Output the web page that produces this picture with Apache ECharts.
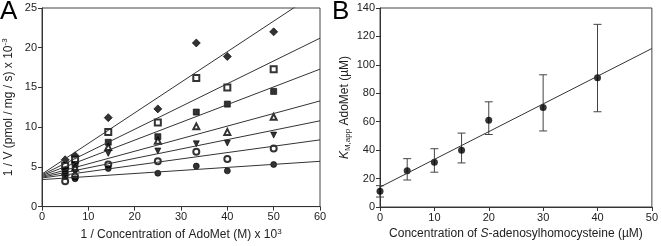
<!DOCTYPE html>
<html>
<head>
<meta charset="utf-8">
<script src="https://cdn.jsdelivr.net/npm/echarts@6/dist/echarts.min.js"></script>
<style>
  html, body { margin: 0; padding: 0; background: #fff; }
  #chart { width: 661px; height: 246px; }
</style>
</head>
<body>
<div id="chart"></div>
<script>
// panel A: 1/V vs 1/[AdoMet], one series per AdoHcy concentration
const invAdoMet = [5, 7.14, 14.3, 25, 33.3, 40, 50]
const diamondFilled = [5.9, 6.4, 11.2, 12.3, 20.6, 18.9, 22.0]
const squareOpen = [5.1, 5.9, 9.4, 10.6, 16.2, 15.0, 17.3]
const squareFilled = [4.6, 5.3, 8.1, 8.8, 11.9, 12.9, 14.5]
const triangleOpen = [4.4, 4.9, 7.5, 8.3, 10.1, 9.4, 11.3]
const triangleDownFilled = [4.1, 4.3, 6.7, 7.0, 7.9, 8.0, 9.0]
const circleOpen = [3.2, 3.8, 5.3, 5.7, 6.9, 6.0, 7.3]
const circleFilled = [3.8, 3.5, 4.8, 4.2, 5.1, 4.5, 5.3]
// fitted lines, value at x = 0 and x = 60
const fitX = [0, 60]
const fitStart = [4.1, 4.0, 3.9, 3.8, 3.7, 3.6, 3.4]
const fitEnd = [27.2, 21.2, 17.3, 13.3, 10.8, 8.4, 5.7]

// panel B: apparent Km vs AdoHcy
const adoHcy = [0, 5, 10, 15, 20, 30, 40]
const kmApp = [11, 25.5, 31.5, 40, 61, 70, 91]
const kmLow = [7, 19, 24.5, 31, 51, 53.5, 67]
const kmHigh = [15, 34, 41, 52, 74, 93, 128.5]
const kmFitX = [0, 50]
const kmFitY = [14, 111.5]

const seriesA = [
  { data: diamondFilled, symbol: 'diamond', size: 8 },
  { data: squareOpen, symbol: 'emptyRect', size: 6 },
  { data: squareFilled, symbol: 'rect', size: 6 },
  { data: triangleOpen, symbol: 'emptyTriangle', size: 6 },
  { data: triangleDownFilled, symbol: 'triangle', size: 6, rotate: 180 },
  { data: circleOpen, symbol: 'emptyCircle', size: 6 },
  { data: circleFilled, symbol: 'circle', size: 6 },
]

const chart = echarts.init(document.getElementById('chart'))

const font = 'Liberation Sans, Arial, sans-serif'
const axisCommon = {
  axisLine: { show: true, onZero: false, lineStyle: { color: '#333', width: 1 } },
  axisTick: { show: true, inside: false, length: 4, lineStyle: { color: '#333' } },
  axisLabel: { color: '#222', fontSize: 11, fontFamily: font, margin: 5 },
  splitLine: { show: false },
  nameLocation: 'middle',
}
const nameStyle = {
  color: '#222',
  fontSize: 12,
  fontFamily: font,
  rich: {
    sup: { fontSize: 8, fontFamily: font, color: '#222', padding: [0, 0, 7, 0] },
    sub: { fontSize: 8, fontFamily: font, color: '#222', padding: [6, 0, 0, 0] },
    it: { fontSize: 12, fontFamily: font, color: '#222', fontStyle: 'italic' },
  },
}

const series = []
seriesA.forEach((s, i) => {
  series.push({
    type: 'line',
    xAxisIndex: 0,
    yAxisIndex: 0,
    data: fitX.map((x, k) => [x, k === 0 ? fitStart[i] : fitEnd[i]]),
    showSymbol: false,
    clip: true,
    lineStyle: { color: '#333', width: 1 },
    silent: true,
  })
  series.push({
    type: 'scatter',
    xAxisIndex: 0,
    yAxisIndex: 0,
    data: invAdoMet.map((x, k) => [x, s.data[k]]),
    symbol: s.symbol,
    symbolSize: s.size,
    symbolRotate: s.rotate || 0,
    itemStyle: { color: '#000', borderColor: '#000', borderWidth: 0.8 },
  })
})

series.push({
  type: 'line',
  xAxisIndex: 1,
  yAxisIndex: 1,
  data: kmFitX.map((x, k) => [x, kmFitY[k]]),
  showSymbol: false,
  lineStyle: { color: '#333', width: 1 },
  silent: true,
})
series.push({
  type: 'custom',
  xAxisIndex: 1,
  yAxisIndex: 1,
  data: adoHcy.map((x, k) => [x, kmLow[k], kmHigh[k]]),
  renderItem: (params, api) => {
    const lo = api.coord([api.value(0), api.value(1)])
    const hi = api.coord([api.value(0), api.value(2)])
    const w = 4
    const style = { stroke: '#444', lineWidth: 1 }
    return {
      type: 'group',
      children: [
        { type: 'line', shape: { x1: lo[0], y1: lo[1], x2: hi[0], y2: hi[1] }, style },
        { type: 'line', shape: { x1: lo[0] - w, y1: lo[1], x2: lo[0] + w, y2: lo[1] }, style },
        { type: 'line', shape: { x1: hi[0] - w, y1: hi[1], x2: hi[0] + w, y2: hi[1] }, style },
      ],
    }
  },
})
series.push({
  type: 'scatter',
  xAxisIndex: 1,
  yAxisIndex: 1,
  data: adoHcy.map((x, k) => [x, kmApp[k]]),
  symbol: 'circle',
  symbolSize: 7,
  itemStyle: { color: '#000' },
})

chart.setOption({
  animation: false,
  textStyle: { fontFamily: font },
  grid: [
    { left: 42, right: 341, top: 8, bottom: 39, show: true, borderColor: '#444', borderWidth: 1 },
    { left: 380, right: 6, top: 8, bottom: 39, show: true, borderColor: '#444', borderWidth: 1 },
  ],
  xAxis: [
    {
      ...axisCommon, gridIndex: 0, type: 'value', min: 0, max: 60, interval: 10,
      name: '1 / Concentration of AdoMet (M) x 10{sup|3}', nameGap: 20, nameTextStyle: nameStyle,
    },
    {
      ...axisCommon, gridIndex: 1, type: 'value', min: 0, max: 50, interval: 10,
      name: 'Concentration of {it|S}-adenosylhomocysteine (µM)', nameGap: 20, nameTextStyle: nameStyle,
    },
  ],
  yAxis: [
    {
      ...axisCommon, gridIndex: 0, type: 'value', min: 0, max: 25, interval: 5,
      name: '1 / V (pmol / mg / s) x 10{sup|-3}', nameGap: 26, nameTextStyle: nameStyle,
    },
    {
      ...axisCommon, gridIndex: 1, type: 'value', min: 0, max: 140, interval: 20,
      name: '{it|K}{sub|M,app} AdoMet (µM)', nameGap: 28, nameTextStyle: nameStyle,
    },
  ],
  graphic: [
    { type: 'text', left: 0, top: -1, style: { text: 'A', fontSize: 26, fontFamily: font, fill: '#000' } },
    { type: 'text', left: 332, top: -1, style: { text: 'B', fontSize: 26, fontFamily: font, fill: '#000' } },
  ],
  series,
})
</script>
</body>
</html>
